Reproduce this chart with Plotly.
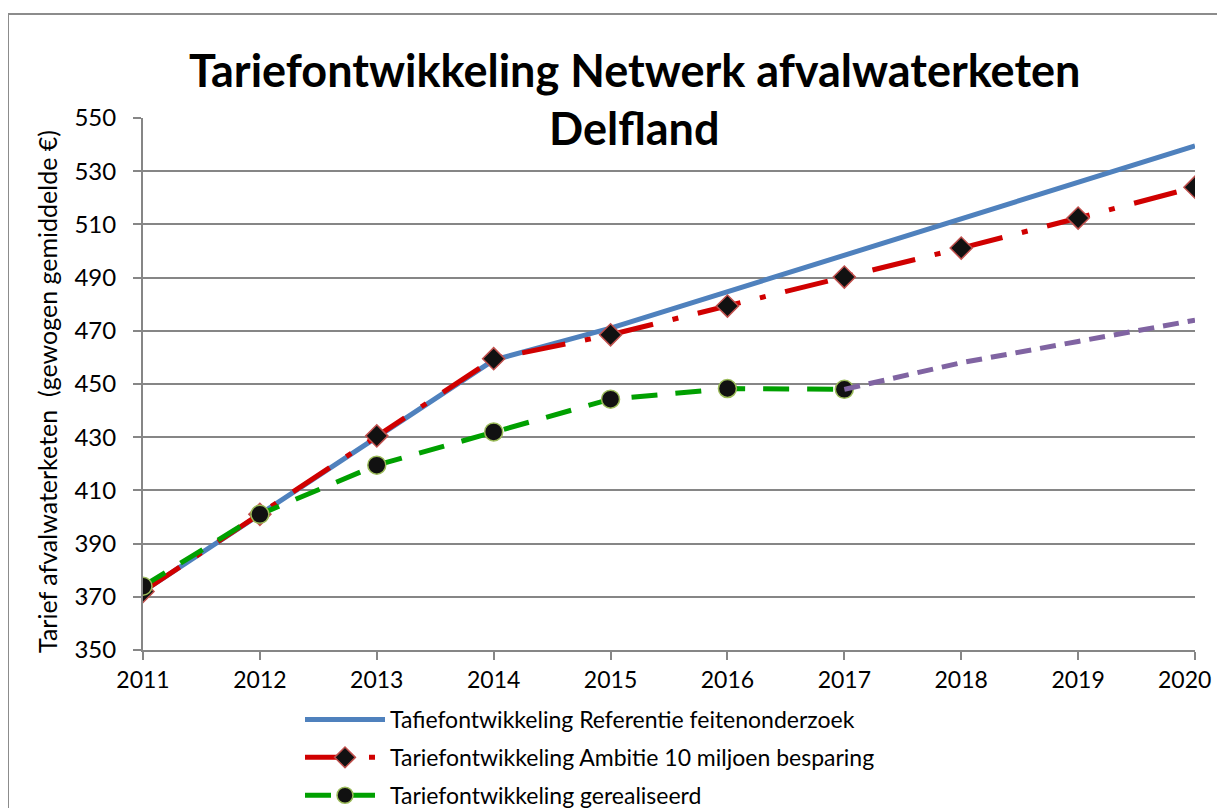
import plotly.graph_objects as go

years = [2011, 2012, 2013, 2014, 2015, 2016, 2017, 2018, 2019, 2020]
referentie = [372, 401, 430.5, 459, 471, 484.7, 498.2, 511.8, 525.6, 539.5]
ambitie = [372, 401, 430.5, 459.5, 468.5, 479.3, 490.2, 501.1, 512.4, 524]
gerealiseerd_years = [2011, 2012, 2013, 2014, 2015, 2016, 2017]
gerealiseerd = [374, 401, 419.5, 432, 444.3, 448.3, 448]
prognose_years = [2017, 2018, 2019, 2020]
prognose = [448, 458, 466, 474]

names = ["Tafiefontwikkeling Referentie feitenonderzoek",
         "Tariefontwikkeling Ambitie 10 miljoen besparing",
         "Tariefontwikkeling gerealiseerd"]
y_title = "Tarief afvalwaterketen  (gewogen gemiddelde €)"

FONT = "Lato, Open Sans, sans-serif"
OFF = 8  # default body margin of the html page
W, H = 1225 - OFF, 808 - OFF
# plot area in screen pixels: x 143..1195, y 118..650
L = 143 - OFF
T = 118 - OFF
R = W - (1195 - OFF)
B = H - (650 - OFF)

fig = go.Figure()
fig.add_trace(go.Scatter(x=years, y=referentie, mode="lines", name=names[0], legendgroup="a",
                         line=dict(color="#4f81bd", width=5)))
fig.add_trace(go.Scatter(x=years, y=ambitie, mode="lines+markers", name=names[1], legendgroup="b",
                         line=dict(color="#d00000", width=5, dash="44px,20px,6px,20px"),
                         marker=dict(symbol="diamond", size=17, color="#111111",
                                     line=dict(color="#c0504d", width=1.5))))
fig.add_trace(go.Scatter(x=gerealiseerd_years, y=gerealiseerd, mode="lines+markers", name=names[2],
                         legendgroup="c",
                         line=dict(color="#00a000", width=5, dash="26px,18px"),
                         marker=dict(symbol="circle", size=18, color="#111111",
                                     line=dict(color="#9bbb59", width=1.5))))
fig.add_trace(go.Scatter(x=prognose_years, y=prognose, mode="lines", showlegend=False,
                         line=dict(color="#8064a2", width=5, dash="16px,9px")))

pw = W - L - R
ph = H - T - B
def px_x(p):  # screen px -> paper
    return (p - OFF - L) / pw
def px_y(p):
    return (H - B - (p - OFF)) / ph

fig.add_shape(type="rect", xref="paper", yref="paper",
              x0=px_x(8), x1=px_x(1300), y0=px_y(900), y1=px_y(14),
              line=dict(color="#8c8c8c", width=2), fillcolor="rgba(0,0,0,0)", layer="below")

fig.add_annotation(text="<b>Tariefontwikkeling Netwerk afvalwaterketen</b>", xref="paper", yref="paper",
                   x=px_x(634), y=px_y(70), xanchor="center", yanchor="middle", showarrow=False,
                   font=dict(family=FONT, size=45, color="#000000"))
fig.add_annotation(text="<b>Delfland</b>", xref="paper", yref="paper",
                   x=px_x(634), y=px_y(128), xanchor="center", yanchor="middle", showarrow=False,
                   font=dict(family=FONT, size=45, color="#000000"))
fig.add_annotation(text=y_title, xref="paper", yref="paper",
                   x=px_x(47), y=px_y(392), xanchor="center", yanchor="middle", showarrow=False,
                   textangle=-90, font=dict(family=FONT, size=25, color="#000000"))
# last year label, kept inside the page edge
fig.add_annotation(text=str(years[-1]), xref="x", yref="paper",
                   x=years[-1], y=px_y(679), xanchor="right", yanchor="middle", xshift=18,
                   showarrow=False, font=dict(family=FONT, size=23, color="#000000"))

ticktext = [str(y) for y in years[:-1]] + [""]

fig.update_layout(
    width=W, height=H,
    margin=dict(l=L, r=R, t=T, b=B, autoexpand=False),
    paper_bgcolor="white", plot_bgcolor="white",
    font=dict(family=FONT, size=22, color="#000000"),
    showlegend=True,
    legend=dict(x=px_x(300), y=px_y(698), xanchor="left", yanchor="top",
                font=dict(family=FONT, size=23), itemwidth=80, tracegroupgap=5,
                bgcolor="rgba(0,0,0,0)"),
    xaxis=dict(range=[2011, 2020], tickmode="array", tickvals=years,
               ticktext=ticktext, automargin=False,
               showgrid=False, zeroline=False, showline=True, linecolor="#868686", linewidth=2,
               ticks="outside", ticklen=8, tickcolor="#868686", tickwidth=2,
               tickfont=dict(family=FONT, size=23)),
    yaxis=dict(range=[350, 550], tickmode="array", tickvals=list(range(350, 551, 20)),
               automargin=False, ticklabelstandoff=12,
               showgrid=True, gridcolor="#868686", gridwidth=2, zeroline=False,
               showline=True, linecolor="#868686", linewidth=2,
               ticks="outside", ticklen=8, tickcolor="#868686", tickwidth=2,
               tickfont=dict(family=FONT, size=24)),
)

fig.write_html("out.html")
